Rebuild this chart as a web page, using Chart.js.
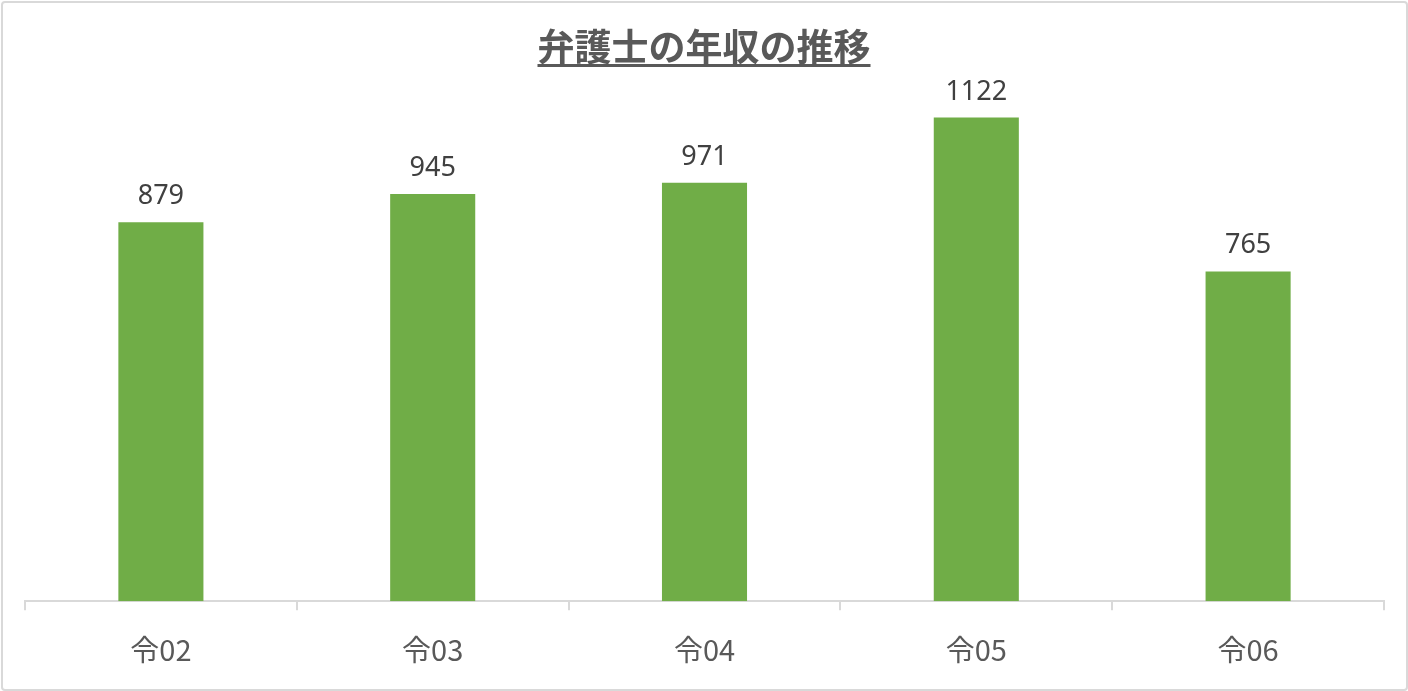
<!DOCTYPE html>
<html>
<head>
<meta charset="utf-8">
<script src="https://cdn.jsdelivr.net/npm/chart.js@4"></script>
<style>
  html, body { margin: 0; padding: 0; background: #fff; }
  #wrap { position: relative; width: 1408px; height: 691px; }
  #frame { position: absolute; left: 1px; top: 1px; width: 1403px; height: 686px;
           border: 2px solid #d9d9d9; border-radius: 4px; pointer-events: none; }
  #title { position: absolute; left: 0; width: 1408px; top: 23px; text-align: center;
           font-family: "Noto Sans CJK JP", sans-serif; font-weight: bold; font-size: 37px;
           color: #595959; line-height: 44px; }
  #title span { text-decoration: underline; text-decoration-thickness: 3px; text-underline-offset: 3px; }
</style>
</head>
<body>
<div id="wrap">
  <canvas id="chart" width="1408" height="691"></canvas>
  <div id="title"><span>弁護士の年収の推移</span></div>
  <div id="frame"></div>
</div>
<script>
const categories = ['令02', '令03', '令04', '令05', '令06'];
const incomes = [879, 945, 971, 1122, 765];

// 棒の上に値を描く
const valueLabels = {
    id: 'valueLabels',
    afterDatasetsDraw(chart) {
        const ctx = chart.ctx;
        const meta = chart.getDatasetMeta(0);
        ctx.save();
        ctx.font = '27px "Noto Sans", "Open Sans", sans-serif';
        ctx.fillStyle = '#404040';
        ctx.textAlign = 'center';
        ctx.textBaseline = 'alphabetic';
        meta.data.forEach((bar, i) => {
            ctx.fillText(String(chart.data.datasets[0].data[i]), bar.x, bar.y - 18);
        });
        ctx.restore();
    }
};

const ctx = document.getElementById('chart').getContext('2d');
new Chart(ctx, {
    type: 'bar',
    data: {
        labels: categories,
        datasets: [{
            data: incomes,
            backgroundColor: '#70ad47',
            borderWidth: 0,
            categoryPercentage: 1,
            barPercentage: 0.313
        }]
    },
    options: {
        responsive: false,
        animation: false,
        layout: { padding: { left: 25, right: 24, top: 84, bottom: 2 } },
        plugins: { legend: { display: false }, tooltip: { enabled: false } },
        scales: {
            x: {
                grid: {
                    offset: true,
                    drawOnChartArea: false,
                    drawTicks: true,
                    tickLength: 9,
                    color: '#d9d9d9',
                    lineWidth: 2
                },
                border: { color: '#d9d9d9', width: 2 },
                ticks: {
                    color: '#595959',
                    padding: 22,
                    font: { size: 29, family: '"Noto Sans CJK JP", sans-serif' }
                }
            },
            y: {
                display: false,
                min: 0,
                max: 1200
            }
        }
    },
    plugins: [valueLabels]
});
</script>
</body>
</html>
